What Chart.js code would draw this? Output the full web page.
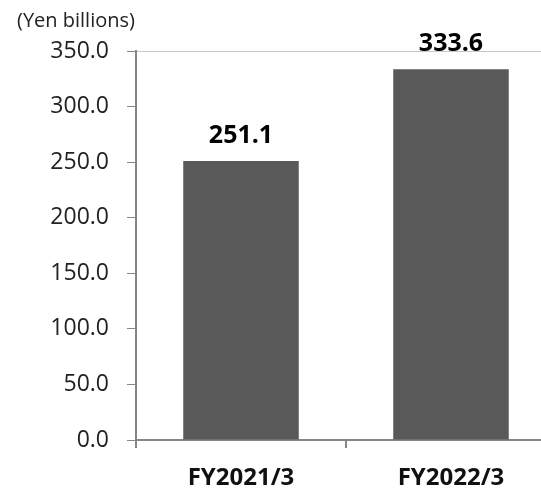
<!DOCTYPE html>
<html>
<head>
<meta charset="utf-8">
<script src="https://cdn.jsdelivr.net/npm/chart.js@4.4.0/dist/chart.umd.min.js"></script>
<style>
  html, body { margin: 0; padding: 0; background: #fff; overflow: hidden; }
  #wrap { width: 560px; height: 489px; position: relative; }
</style>
</head>
<body>
<div id="wrap"><canvas id="chart"></canvas></div>
<script>
const categories = ['FY2021/3', 'FY2022/3'];
const salesValues = [251.1, 333.6];
const unitLabel = '(Yen billions)';

const axisColor = '#868686';
const barColor = '#595959';

// value labels above each bar plus the unit caption at the top left
const barLabels = {
    id: 'barLabels',
    afterDatasetsDraw(chart) {
        const ctx = chart.ctx;
        const meta = chart.getDatasetMeta(0);
        ctx.save();
        ctx.fillStyle = '#000';
        ctx.textAlign = 'center';
        ctx.textBaseline = 'alphabetic';
        ctx.font = 'bold 25px "Open Sans"';
        meta.data.forEach((bar, i) => {
            ctx.fillText(salesValues[i].toFixed(1), bar.x, bar.y - 18);
        });
        ctx.font = '20px "Open Sans"';
        ctx.textAlign = 'left';
        ctx.fillStyle = '#222';
        ctx.fillText(unitLabel, 17, 27);
        ctx.restore();
    }
};

new Chart(document.getElementById('chart'), {
    type: 'bar',
    data: {
        labels: categories,
        datasets: [{
            data: salesValues,
            backgroundColor: barColor,
            categoryPercentage: 1,
            barPercentage: 0.55
        }]
    },
    options: {
        responsive: true,
        maintainAspectRatio: false,
        animation: false,
        layout: { padding: { top: 51, right: 4, left: 0, bottom: 0 } },
        plugins: {
            legend: { display: false },
            tooltip: { enabled: false }
        },
        scales: {
            y: {
                min: 0,
                max: 350,
                ticks: {
                    stepSize: 50,
                    color: '#222',
                    font: { family: 'Open Sans', size: 23 },
                    padding: 18,
                    callback: v => v.toFixed(1)
                },
                grid: {
                    color: c => c.tick && c.tick.value === 350 ? '#c8c8c8' : 'transparent',
                    tickColor: axisColor,
                    tickLength: 9,
                    lineWidth: 1
                },
                border: { color: axisColor, width: 2 },
                afterFit: s => { s.width = 136; }
            },
            x: {
                ticks: {
                    color: '#111',
                    font: { family: 'Open Sans', size: 24, weight: 'bold' },
                    padding: 16
                },
                grid: {
                    drawOnChartArea: false,
                    tickColor: axisColor,
                    tickLength: 8,
                    lineWidth: 2
                },
                border: { color: axisColor, width: 2 },
                afterFit: s => { s.height = 49; }
            }
        }
    },
    plugins: [barLabels]
});
</script>
</body>
</html>
